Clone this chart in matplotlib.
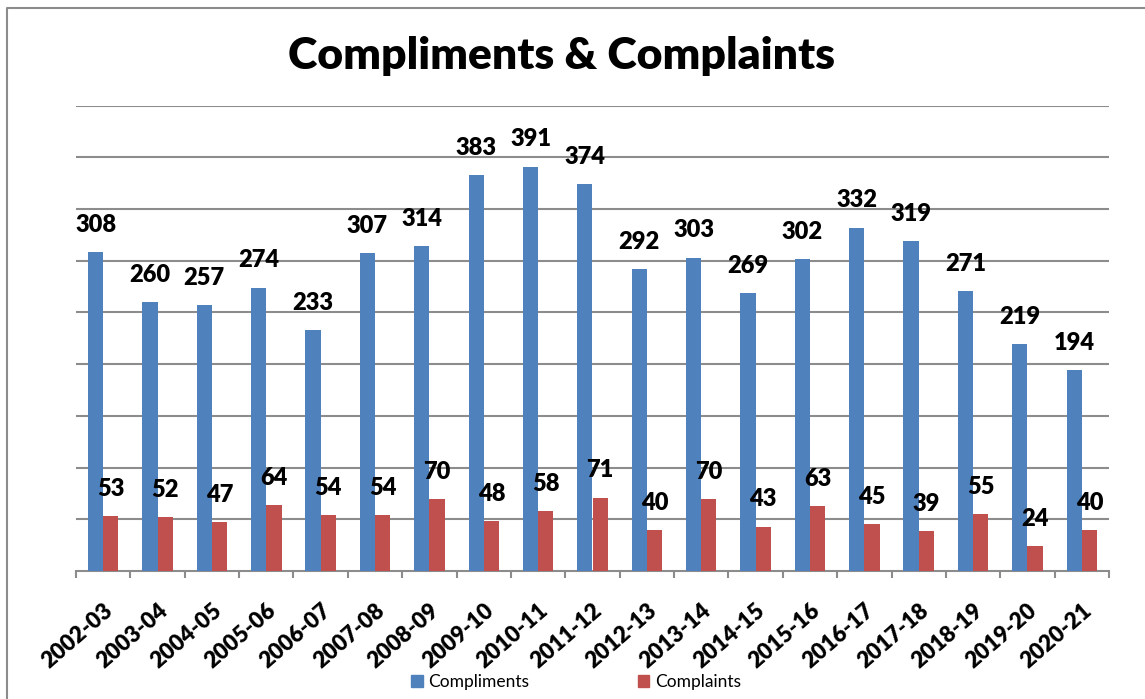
import numpy as np
import matplotlib
matplotlib.use("Agg")
import matplotlib.pyplot as plt
from matplotlib.lines import Line2D
from matplotlib.patches import Patch

years = ["2002-03", "2003-04", "2004-05", "2005-06", "2006-07", "2007-08",
         "2008-09", "2009-10", "2010-11", "2011-12", "2012-13", "2013-14",
         "2014-15", "2015-16", "2016-17", "2017-18", "2018-19", "2019-20",
         "2020-21"]
compliments = [308, 260, 257, 274, 233, 307, 314, 383, 391, 374, 292, 303,
               269, 302, 332, 319, 271, 219, 194]
complaints = [53, 52, 47, 64, 54, 54, 70, 48, 58, 71, 40, 70, 43, 63, 45,
              39, 55, 24, 40]

blue = "#4F81BD"
red = "#C0504D"
grey = "#8C8C8C"

W, H = 1145, 699
fig = plt.figure(figsize=(W / 100, H / 100), dpi=100)
ax = fig.add_axes([76 / W, 1 - 571 / H, (1109 - 76) / W, (571 - 105.5) / H])

x = np.arange(len(years))
bw = 0.28
ax.bar(x - bw / 2, compliments, bw, color=blue, zorder=3)
ax.bar(x + bw / 2, complaints, bw, color=red, zorder=3)

# value labels
lab_font = dict(family="Lato", weight="heavy", size=17)
for xi, v in zip(x - bw / 2, compliments):
    ax.annotate(str(v), (xi, v), xytext=(0, 19.5), textcoords="offset points",
                ha="center", va="center", zorder=5, **lab_font)
for xi, v in zip(x + bw / 2, complaints):
    ax.annotate(str(v), (xi, v), xytext=(0, 19.5), textcoords="offset points",
                ha="center", va="center", zorder=5, **lab_font)

ax.set_xlim(-0.5, len(years) - 0.5)
ax.set_ylim(0, 450)
ax.set_yticks(np.arange(50, 451, 50))
ax.yaxis.grid(True, color=grey, linewidth=1.5, zorder=0)
ax.tick_params(axis="y", left=False, labelleft=False)

# category boundary ticks
ax.set_xticks(np.arange(-0.5, len(years), 1.0))
ax.set_xticklabels([])
ax.tick_params(axis="x", direction="out", length=5, width=1.5, color=grey)
ax.set_xticks(x, minor=True)
ax.set_xticklabels(years, minor=True, rotation=41, ha="right",
                   rotation_mode="anchor", fontfamily="Lato",
                   fontweight="heavy", fontsize=16)
ax.tick_params(axis="x", which="minor", length=0, pad=21)

for s in ["top", "right", "left"]:
    ax.spines[s].set_visible(False)
ax.spines["bottom"].set_color(grey)
ax.spines["bottom"].set_linewidth(1.5)

fig.text(562 / W, 1 - 56 / H, "Compliments & Complaints", ha="center",
         va="center", fontfamily="Lato", fontweight="heavy", fontsize=32)

handles = [Patch(color=blue, label="Compliments"),
           Patch(color=red, label="Complaints")]
fig.legend(handles=handles, loc="center", bbox_to_anchor=(576 / W, 1 - 682 / H),
           ncol=2, frameon=False, prop=dict(family="Lato", size=12.5),
           handlelength=0.65, handleheight=0.65, handletextpad=0.3,
           columnspacing=6.3)

# outer chart border (left and top)
fig.add_artist(Line2D([6.5 / W, 6.5 / W, 1.0], [0.0, 1 - 7.5 / H, 1 - 7.5 / H],
                      transform=fig.transFigure, color=grey, linewidth=1.5))

fig.savefig("out.png", dpi=100)
